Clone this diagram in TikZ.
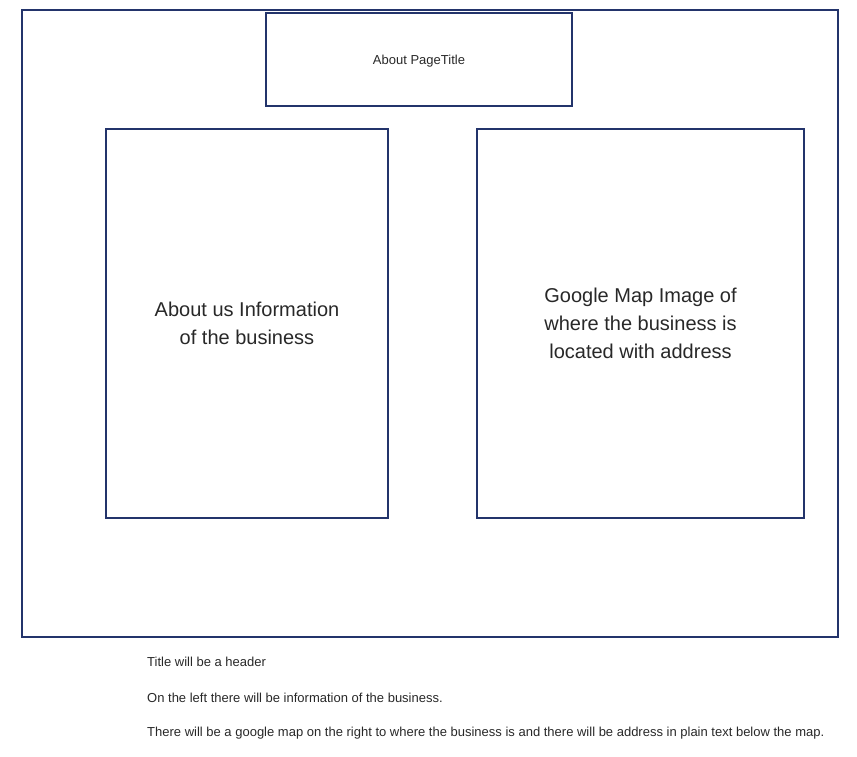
\documentclass[tikz,border=0pt]{standalone}
\usepackage{fontspec}
\setmainfont{Liberation Sans}
\usetikzlibrary{positioning}

\definecolor{framecol}{RGB}{35,52,107}
\definecolor{textcol}{RGB}{40,40,40}

\tikzset{
    box/.style={draw=framecol, line width=2pt, rectangle, align=center, text=textcol},
    bigtext/.style={font=\fontsize{20}{28}\selectfont},
    smalltext/.style={font=\fontsize{13}{16}\selectfont},
    note/.style={smalltext, text=textcol, anchor=west, inner sep=0pt}
}

\begin{document}
\begin{tikzpicture}[x=1pt, y=-1pt]
    \useasboundingbox (0, 0) rectangle (857, 757);

    % page frame
    \node[box, minimum width=816pt, minimum height=627pt] (page) at (430, 323.5) {};

    % header
    \node[box, smalltext, text depth=0pt, minimum width=306pt, minimum height=93pt] (title) at (419, 59.5) {About PageTitle};

    % two columns
    \node[box, bigtext, minimum width=282pt, minimum height=389pt] (about) at (247, 323.5)
        {About us Information\\of the business};
    \node[box, bigtext, minimum width=327pt, minimum height=389pt] (map) at (640.5, 323.5)
        {Google Map Image of\\where the business is\\located with address};

    % notes below the frame
    \node[note] (note1) at (147, 661.5) {Title will be a header};
    \node[note] (note2) at (147, 697.5) {On the left there will be information of the business.};
    \node[note] (note3) at (147, 733.5) {There will be a google map on the right to where the business is and there will be address in plain text below the map.};

\end{tikzpicture}
\end{document}
